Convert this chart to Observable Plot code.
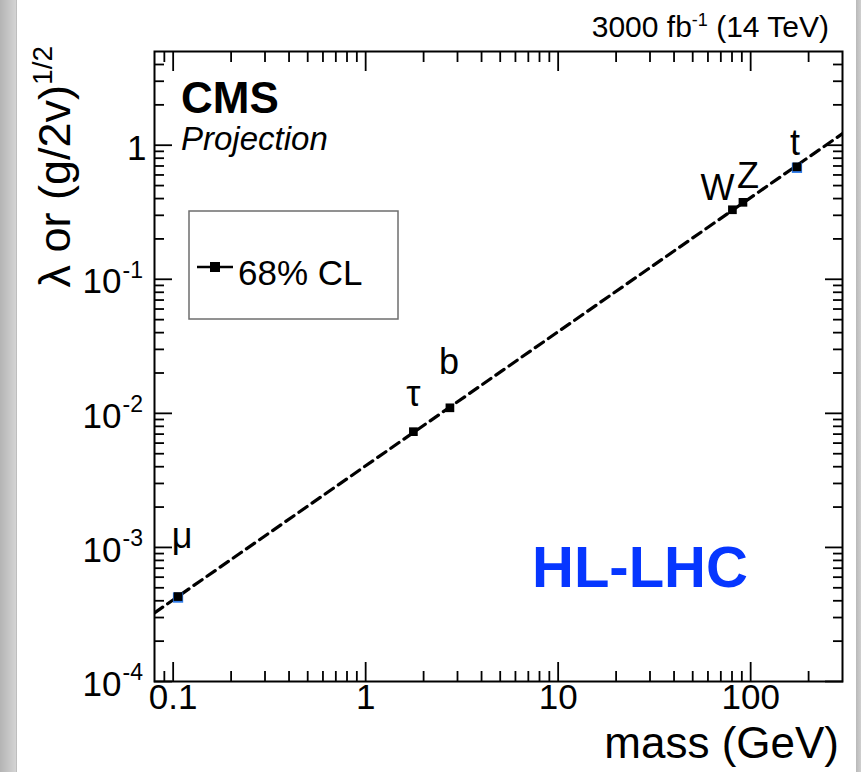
<!DOCTYPE html>
<html>
<head>
<meta charset="utf-8">
<script src="https://cdn.jsdelivr.net/npm/d3@7"></script>
<script src="https://cdn.jsdelivr.net/npm/@observablehq/plot@0.6"></script>
<style>
  html, body { margin: 0; padding: 0; background: #fff; }
  #wrap {
    width: 861px; height: 772px; position: relative;
    background: linear-gradient(to right, #b4b4b4 0px, #d4d4d4 16px, #a9a9a9 17px, #ffffff 17px, #ffffff 856px, #b9b9b9 856px, #cfcfcf 861px);
  }
  #wrap svg { position: absolute; left: 0; top: 0; }
</style>
</head>
<body>
<div id="wrap"></div>
<script>
// ---- data ----
const particles = ["μ", "τ", "b", "W", "Z", "t"];
const masses = [0.106, 1.77, 2.74, 80.4, 91.2, 174];
const couplings = [0.00043, 0.0073, 0.011, 0.33, 0.375, 0.69];
const highlighted = ["μ", "t"];

// expected SM line (dashed)
const lineMass = [0.08, 300];
const lineCoupling = [0.000325, 1.22];

// axis ticks
const xMajor = [0.1, 1, 10, 100];
const xTickLabels = ["0.1", "1", "10", "100"];
const xMinor = [0.09, 0.2, 0.3, 0.4, 0.5, 0.6, 0.7, 0.8, 0.9, 2, 3, 4, 5, 6, 7, 8, 9, 20, 30, 40, 50, 60, 70, 80, 90, 200];
const yMajor = [1e-4, 1e-3, 1e-2, 1e-1, 1];
const yTickBase = ["10", "10", "10", "10", "1"];
const yTickExp = ["-4", "-3", "-2", "-1", ""];
const yMinor = [];
[1e-4, 1e-3, 1e-2, 1e-1].forEach(d => { for (let k = 2; k <= 9; k++) yMinor.push(+(k * d).toPrecision(3)); });
yMinor.push(2, 3, 4);

const points = particles.map((p, i) => ({particle: p, mass: masses[i], coupling: couplings[i]}));
const line = lineMass.map((m, i) => ({mass: m, coupling: lineCoupling[i]}));

// label placement (layout, pixels)
const labelOffsets = {"μ": [4, -60], "τ": [0, -37], "b": [-1, -45], "W": [-15, -21], "Z": [5, -26], "t": [-2, -23]};

const FONT = "'Liberation Sans', Arial, Helvetica, sans-serif";
const noLabel = () => "";

const chart = Plot.plot({
  width: 861,
  height: 772,
  marginLeft: 154,
  marginRight: 19,
  marginTop: 51,
  marginBottom: 91,
  style: {fontFamily: FONT, background: "transparent", overflow: "visible"},
  x: {type: "log", domain: [0.08, 300], axis: null},
  y: {type: "log", domain: [1e-4, 5], axis: null},
  marks: [
    // inward ROOT-style ticks on all sides
    Plot.axisX({anchor: "bottom", ticks: xMajor, tickSize: -19, tickFormat: noLabel, label: null, strokeWidth: 1.8}),
    Plot.axisX({anchor: "bottom", ticks: xMinor, tickSize: -10, tickFormat: noLabel, label: null, strokeWidth: 1.8}),
    Plot.axisX({anchor: "top", ticks: xMajor, tickSize: -19, tickFormat: noLabel, label: null, strokeWidth: 1.8}),
    Plot.axisX({anchor: "top", ticks: xMinor, tickSize: -10, tickFormat: noLabel, label: null, strokeWidth: 1.8}),
    Plot.axisY({anchor: "left", ticks: yMajor, tickSize: -18, tickFormat: noLabel, label: null, strokeWidth: 1.8}),
    Plot.axisY({anchor: "left", ticks: yMinor, tickSize: -10, tickFormat: noLabel, label: null, strokeWidth: 1.8}),
    Plot.axisY({anchor: "right", ticks: yMajor, tickSize: -18, tickFormat: noLabel, label: null, strokeWidth: 1.8}),
    Plot.axisY({anchor: "right", ticks: yMinor, tickSize: -10, tickFormat: noLabel, label: null, strokeWidth: 1.8}),
    Plot.frame({stroke: "#000", strokeWidth: 2}),

    // tick labels
    Plot.text(xMajor, {x: d => d, frameAnchor: "bottom", dy: 27, text: xTickLabels, fontSize: 35, fill: "#000"}),
    Plot.text(yMajor, {y: d => d, frameAnchor: "left", text: yTickBase, filter: d => d < 1, textAnchor: "end", dx: -33, dy: 3, fontSize: 35, fill: "#000"}),
    Plot.text(yMajor, {y: d => d, frameAnchor: "left", text: yTickBase, filter: d => d >= 1, textAnchor: "end", dx: -8, dy: 4, fontSize: 35, fill: "#000"}),
    Plot.text(yMajor, {y: d => d, frameAnchor: "left", text: yTickExp, filter: d => d < 1, textAnchor: "start", dx: -32, dy: -9, fontSize: 23, fill: "#000"}),

    // dashed expectation line
    Plot.line(line, {x: "mass", y: "coupling", stroke: "#000", strokeWidth: 3.2, strokeDasharray: "10,6", clip: true}),

    // measured points
    Plot.dot(points, {x: "mass", y: "coupling", filter: d => highlighted.includes(d.particle), symbol: "square", r: 5.8, fill: "#2f7be8", dy: 1}),
    Plot.dot(points, {x: "mass", y: "coupling", symbol: "square", r: 4.9, fill: "#000"}),

    // particle labels
    ...particles.map(p => Plot.text(points, {
      x: "mass", y: "coupling", text: "particle",
      filter: d => d.particle === p,
      dx: labelOffsets[p][0], dy: labelOffsets[p][1],
      fontSize: 36, fill: "#000"
    }))
  ]
});

document.getElementById("wrap").appendChild(chart);

// ---- annotations, titles, legend ----
const svg = d3.select(chart);
const g = svg.append("g").attr("font-family", FONT).attr("fill", "#000").attr("text-anchor", "start");

// top-right luminosity label
const lumi = g.append("text").attr("x", 829).attr("y", 37).attr("text-anchor", "end").attr("font-size", 30);
lumi.append("tspan").text("3000 fb");
lumi.append("tspan").attr("font-size", 18).attr("dy", -11).text("-1");
lumi.append("tspan").attr("dy", 11).text(" (14 TeV)");

// CMS / Projection
g.append("text").attr("x", 181).attr("y", 113).attr("font-size", 44).attr("font-weight", "bold").text("CMS");
g.append("text").attr("x", 181).attr("y", 150).attr("font-size", 33).attr("font-style", "italic").text("Projection");

// HL-LHC
g.append("text").attr("x", 532).attr("y", 587).attr("font-size", 58).attr("font-weight", "bold").attr("fill", "#0636ff").text("HL-LHC");

// axis titles
g.append("text").attr("x", 839).attr("y", 758).attr("text-anchor", "end").attr("font-size", 44).text("mass (GeV)");
const ytitle = g.append("text").attr("transform", "translate(70,46) rotate(-90)").attr("text-anchor", "end").attr("font-size", 45);
ytitle.append("tspan").text("λ or (g/2v)");
ytitle.append("tspan").attr("font-size", 28).attr("dy", -18).text("1/2");

// legend box
const lg = svg.append("g");
lg.append("rect").attr("x", 189).attr("y", 211).attr("width", 209).attr("height", 108)
  .attr("fill", "#fff").attr("stroke", "#6e6e6e").attr("stroke-width", 1.5);
lg.append("line").attr("x1", 197).attr("x2", 233).attr("y1", 267).attr("y2", 267).attr("stroke", "#000").attr("stroke-width", 2.5);
lg.append("rect").attr("x", 210).attr("y", 262).attr("width", 10).attr("height", 10).attr("fill", "#000");
lg.append("text").attr("x", 238).attr("y", 285).attr("text-anchor", "start").attr("font-family", FONT).attr("font-size", 35).attr("fill", "#000").text("68% CL");
</script>
</body>
</html>
